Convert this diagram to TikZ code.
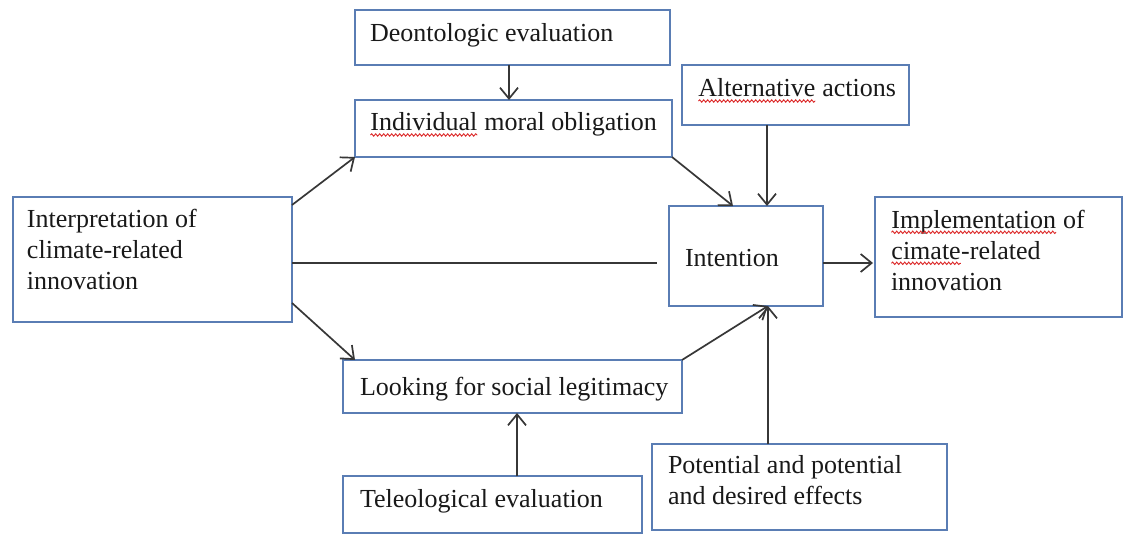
\documentclass[tikz,border=0pt]{standalone}
\usepackage{fontspec}
\setmainfont{Liberation Serif}
\usetikzlibrary{arrows.meta,decorations.pathmorphing}
\definecolor{boxblue}{RGB}{90,125,180}
\definecolor{arrowgray}{RGB}{55,55,55}
\definecolor{squigred}{RGB}{220,40,40}
\tikzset{
 box/.style={draw=boxblue, line width=1.7pt, fill=white, anchor=north west, inner sep=0pt, outer sep=0pt},
 txt/.style={font=\fontsize{26}{31}\selectfont, inner sep=0pt, outer sep=0pt, text=black!90},
 arr/.style={draw=arrowgray, line width=1.7pt, -{Straight Barb[length=11pt,width=18pt]}},
 plainline/.style={draw=arrowgray, line width=1.7pt},
 squigline/.style={draw=squigred, line width=0.9pt, decorate, decoration={snake, amplitude=1.2pt, segment length=4pt}}
}
\newcommand\squig[1]{\tikz[baseline=(sqw.base)]{\node[inner sep=0pt,outer sep=0pt](sqw){#1};\draw[squigline]([yshift=-4pt]sqw.base west)--([yshift=-4pt]sqw.base east);}}
\begin{document}
\begin{tikzpicture}[x=1pt,y=-1pt]
\useasboundingbox[fill=white] (0,0) rectangle (1123,534);
% boxes
\node[box, minimum width=315pt, minimum height=55pt] (deo) at (355,10) {};
\node[box, minimum width=317pt, minimum height=57pt] (ind) at (355,100) {};
\node[box, minimum width=227pt, minimum height=60pt] (alt) at (682,65) {};
\node[box, minimum width=279pt, minimum height=125pt] (interp) at (13,197) {};
\node[box, minimum width=154pt, minimum height=100pt] (int) at (669,206) {};
\node[box, minimum width=247pt, minimum height=120pt] (impl) at (875,197) {};
\node[box, minimum width=339pt, minimum height=53pt] (look) at (343,360) {};
\node[box, minimum width=299pt, minimum height=57pt] (tel) at (343,476) {};
\node[box, minimum width=295pt, minimum height=86pt] (pot) at (652,444) {};
% texts
\node[txt, anchor=base west] (deoT) at (370,42) {Deontologic evaluation};
\node[txt, anchor=base west] (indT) at (370,131) {\squig{Individual} moral obligation};
\node[txt, anchor=base west] (altT) at (698,97) {\squig{Alternative} actions};
\node[txt, anchor=north west, align=left] (interpT) at (27,209) {Interpretation of\\climate-related\\innovation};
\node[txt, anchor=base west] (intT) at (685,267) {Intention};
\node[txt, anchor=north west, align=left] (implT) at (891,210) {\squig{Implementation} of\\\squig{cimate}-related\\innovation};
\node[txt, anchor=base west] (lookT) at (360,395) {Looking for social legitimacy};
\node[txt, anchor=base west] (telT) at (360,507) {Teleological evaluation};
\node[txt, anchor=north west, align=left] (potT) at (668,455) {Potential and potential\\and desired effects};
% connector coordinates
\coordinate (hend) at (657,263);
\coordinate (deoIn) at (509,100);
\coordinate (altIn) at (767,206);
\coordinate (potIn) at (768,306);
\coordinate (indIn) at (733,206);
\coordinate (telIn) at (517,413);
\coordinate (implIn) at (873,263);
% connectors
\draw[arr] (deo.south -| deoIn) -- (deoIn);
\draw[arr] ([yshift=-8pt]interp.north east) -- (ind.south west);
\draw[arr] ([yshift=19pt]interp.south east) -- ([xshift=12pt]look.north west);
\draw[plainline] (interp.east |- hend) -- (hend);
\draw[arr] (ind.south east) -- (indIn);
\draw[arr] (alt.south -| altIn) -- (altIn);
\draw[arr] (int.east |- implIn) -- (implIn);
\draw[arr] (look.north east) -- (potIn);
\draw[arr] (pot.north -| potIn) -- (potIn);
\draw[arr] (tel.north -| telIn) -- (telIn);
\end{tikzpicture}
\end{document}
